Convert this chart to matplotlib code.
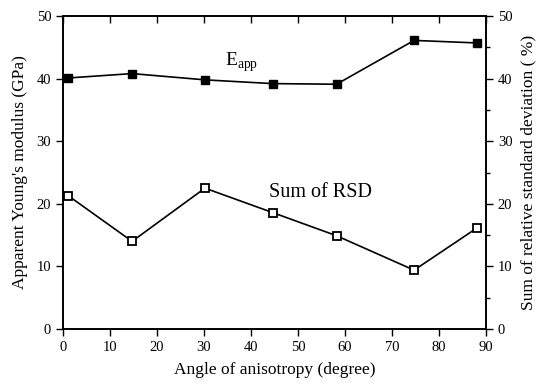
import matplotlib
matplotlib.use("Agg")
import matplotlib.pyplot as plt
from matplotlib.ticker import MultipleLocator

plt.rcParams['font.family'] = ['Liberation Serif', 'DejaVu Serif']
plt.rcParams['mathtext.fontset'] = 'custom'
plt.rcParams['mathtext.rm'] = 'Liberation Serif'

angle = [1.1, 14.7, 30.2, 44.6, 58.2, 74.7, 88.0]
e_app = [40.1, 40.8, 39.8, 39.2, 39.1, 46.1, 45.7]
rsd_sum = [21.3, 14.0, 22.5, 18.6, 14.9, 9.4, 16.1]

fig = plt.figure(figsize=(5.39, 3.84), dpi=100)
ax = fig.add_axes([63 / 539, 1 - 329 / 384, (486 - 63) / 539, (329 - 16) / 384])
ax2 = ax.twinx()

ax.plot(angle, e_app, color='black', lw=1.2, marker='s', ms=6, mfc='black', mec='black')
ax2.plot(angle, rsd_sum, color='black', lw=1.2, marker='s', ms=6, mfc='white', mec='black', mew=1.3)

ax.set_xlim(0, 90)
ax.set_ylim(0, 50)
ax2.set_ylim(0, 50)
ax.xaxis.set_major_locator(MultipleLocator(10))
ax.yaxis.set_major_locator(MultipleLocator(10))
ax2.yaxis.set_major_locator(MultipleLocator(10))
ax2.yaxis.set_minor_locator(MultipleLocator(5))

ax.tick_params(axis='x', direction='out', top=True, labelsize=10.5, length=5, width=1)
ax.tick_params(axis='y', direction='out', labelsize=10.5, length=5, width=1)
ax2.tick_params(axis='y', which='major', direction='out', labelsize=10.5, length=5, width=1)
ax2.tick_params(axis='y', which='minor', direction='out', length=3, width=1)
for a in (ax, ax2):
    for s in a.spines.values():
        s.set_linewidth(1.2)

# top ticks point inward
for t in ax.xaxis.get_major_ticks():
    t.tick2line.set_marker(matplotlib.lines.TICKDOWN)

ax.set_xlabel('Angle of anisotropy (degree)', fontsize=12.5, labelpad=6)
ax.set_ylabel("Apparent Young's modulus (GPa)", fontsize=12.5, labelpad=6)
ax2.set_ylabel('Sum of relative standard deviation ( %)', fontsize=12.5, labelpad=6)

ax.text(34.5, 42.0, r'E$_{\mathrm{app}}$', fontsize=14, ha='left', va='baseline')
ax.text(43.8, 21.1, 'Sum of RSD', fontsize=14.5, ha='left', va='baseline')

fig.savefig('out.png', dpi=100)
